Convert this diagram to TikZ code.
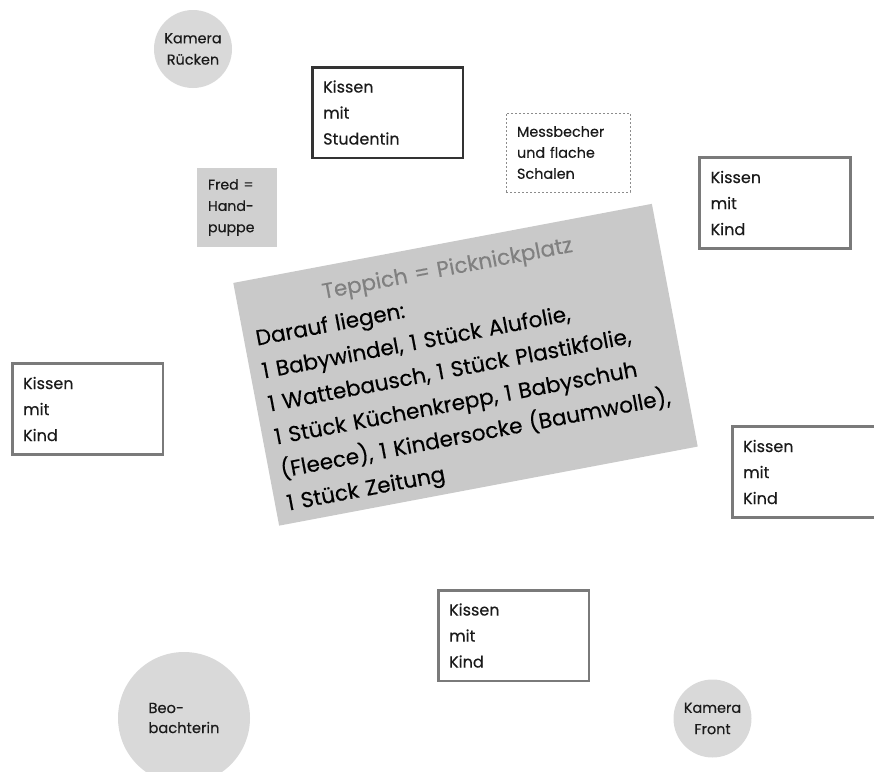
\documentclass[tikz,border=0pt]{standalone}
\usepackage{fontspec}
\setmainfont{Poppins}[FakeBold=0.3]
\usetikzlibrary{calc}
\definecolor{ink}{HTML}{1A1A1A}
\definecolor{darkframe}{HTML}{333333}
\definecolor{midframe}{HTML}{7A7A7A}
\definecolor{dashframe}{HTML}{8C8C8C}
\definecolor{rugfill}{HTML}{C9C9C9}
\definecolor{propfill}{HTML}{D0D0D0}
\definecolor{camfill}{HTML}{D9D9D9}
\definecolor{titlegray}{HTML}{808080}
\begin{document}
\begin{tikzpicture}[x=0.75pt,y=-0.75pt,
  every node/.style={text=ink, inner sep=0pt},
  pillow/.style={rectangle, draw=#1, line width=2pt, fill=white,
    minimum width=113pt, minimum height=68pt, text width=96.5pt,
    inner xsep=8.25pt, align=left, font=\fontsize{12}{19.5}\selectfont},
  pillow/.default=midframe,
  camera/.style={circle, fill=camfill, minimum size=58.5pt, align=center,
    font=\fontsize{10.8}{16}\selectfont},
  prop/.style={rectangle, minimum width=60pt, minimum height=59.25pt,
    text width=43.5pt, inner xsep=8.25pt, align=left,
    font=\fontsize{10.6}{16}\selectfont},
  rug/.style={rectangle, fill=rugfill, minimum width=319.5pt,
    minimum height=185.25pt, text width=301.5pt, align=left,
    font=\fontsize{16.2}{25.2}\selectfont, text=black}
]
\path[use as bounding box, clip] (0,0) rectangle (874,771);

% cameras and observer
\node[camera] (camback) at (193,49) {Kamera\\Rücken};
\node[camera] (camfront) at (712.5,718.5) {Kamera\\Front};
\node[circle, fill=camfill, minimum size=99pt, align=left,
  font=\fontsize{11}{15}\selectfont] (observer) at (184,718) {Beo-\\bachterin};

% cushions around the picnic rug
\node[pillow=darkframe] (student) at (387.5,112.5) {Kissen\\mit\\Studentin};
\node[pillow] (kidNE) at (775,203) {Kissen\\mit\\Kind};
\node[pillow] (kidW) at (87.5,409) {Kissen\\mit\\Kind};
\node[pillow] (kidE) at (807.5,472) {Kissen\\mit\\Kind};
\node[pillow] (kidS) at (513.5,635.5) {Kissen\\mit\\Kind};

% props
\node[prop, fill=propfill] (fred) at (237,207.5) {Fred =\\Hand-\\puppe};
\node[prop, draw=dashframe, line width=0.6pt, dash pattern=on 1.8pt off 1.2pt,
  minimum width=93pt, text width=76.5pt,
  font=\fontsize{10.8}{15.75}\selectfont] (cups) at (568,152.5)
  {Messbecher\\und flache\\Schalen};

% the rug with the objects lying on it; the strut lowers the text block a little
\node[rug, rotate=10.7] (rug) at (465.5,364.75)
  {\hbox to\hsize{\rule{0pt}{19pt}\hfil\color{titlegray}Teppich = Picknickplatz\hfil}\\
   Darauf liegen:\\
   1 Babywindel, 1 Stück Alufolie,\\
   1 Wattebausch, 1 Stück Plastikfolie,\\
   1 Stück Küchenkrepp, 1 Babyschuh\\
   (Fleece), 1 Kindersocke (Baumwolle),\\
   1 Stück Zeitung};
\end{tikzpicture}
\end{document}
